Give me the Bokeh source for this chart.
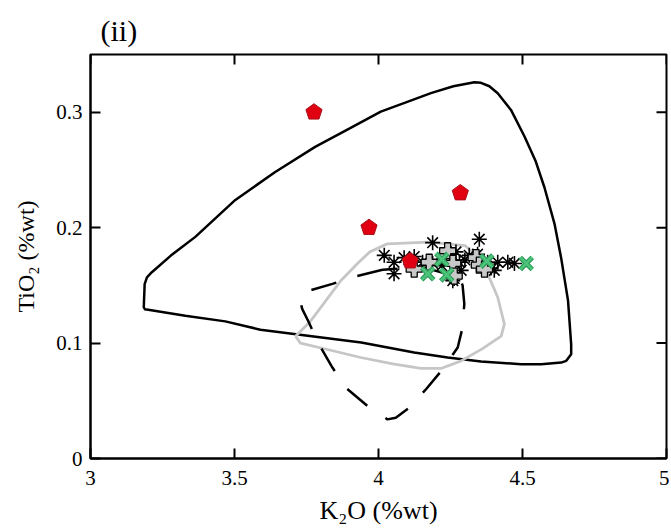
import math
from bokeh.plotting import figure
from bokeh.models import Range1d, FixedTicker
from bokeh.embed import file_html
from bokeh.resources import INLINE

# ---- data ----
x_ticks = [3, 3.5, 4, 4.5, 5]
x_tick_labels = ["3", "3.5", "4", "4.5", "5"]
y_ticks = [0, 0.1, 0.2, 0.3]
y_tick_labels = ["0", "0.1", "0.2", "0.3"]

# outer solid black field
outer_x = [3.195, 3.190, 3.185, 3.188, 3.196, 3.213, 3.28, 3.364, 3.503, 3.64, 3.78, 3.90,
           4.008, 4.10, 4.182, 4.26, 4.333, 4.356, 4.385, 4.414, 4.46, 4.507, 4.545, 4.576,
           4.611, 4.634, 4.658, 4.669, 4.669, 4.652, 4.634, 4.565, 4.495, 4.356, 4.24, 4.124,
           3.94, 3.59, 3.468, 3.329, 3.195]
outer_y = [0.129, 0.129, 0.131, 0.151, 0.157, 0.1614, 0.176, 0.192, 0.224, 0.248, 0.270, 0.286,
           0.3005, 0.309, 0.3165, 0.3225, 0.326, 0.3255, 0.3225, 0.3165, 0.302, 0.279, 0.258, 0.235,
           0.2035, 0.174, 0.137, 0.099, 0.0904, 0.0846, 0.0831, 0.0817, 0.0817, 0.084, 0.0875, 0.0918,
           0.1005, 0.1116, 0.1188, 0.1237, 0.129]

# grey field
grey_x = [3.712, 3.729, 3.83, 3.938, 4.05, 4.147, 4.217, 4.287, 4.36, 4.426, 4.437, 4.414,
          4.379, 4.35, 4.30, 4.171, 4.031, 3.97, 3.927, 3.869, 3.764, 3.712]
grey_y = [0.106, 0.100, 0.094, 0.0875, 0.082, 0.078, 0.078, 0.0846, 0.095, 0.106, 0.1165, 0.1397,
          0.160, 0.174, 0.1845, 0.1875, 0.186, 0.179, 0.169, 0.154, 0.119, 0.106]

# dashed field
dash_x = [4.014, 3.921, 3.84, 3.741, 3.727, 3.735, 3.758, 3.793, 3.84, 3.886, 3.962, 4.031,
          4.06, 4.107, 4.165, 4.223, 4.275, 4.292, 4.298, 4.292, 4.281, 4.15, 4.014]
dash_y = [0.1635, 0.1577, 0.1513, 0.144, 0.138, 0.1296, 0.118, 0.099, 0.0788, 0.0614, 0.0455, 0.0339,
          0.0353, 0.044, 0.060, 0.0774, 0.0962, 0.1136, 0.134, 0.150, 0.157, 0.166, 0.1635]

# samples
ast_x = [4.02, 4.054, 4.054, 4.089, 4.124, 4.153, 4.188, 4.188, 4.22, 4.252, 4.269, 4.281,
         4.287, 4.263, 4.258, 4.30, 4.315, 4.35, 4.344, 4.379, 4.391, 4.402, 4.414, 4.449, 4.472]
ast_y = [0.176, 0.170, 0.160, 0.174, 0.175, 0.170, 0.187, 0.169, 0.167, 0.177, 0.179, 0.170,
         0.163, 0.156, 0.154, 0.172, 0.176, 0.190, 0.177, 0.170, 0.165, 0.163, 0.170, 0.170, 0.169]

plus_x = [4.124, 4.176, 4.24, 4.258, 4.263, 4.339, 4.35, 4.368]
plus_y = [0.164, 0.170, 0.180, 0.169, 0.158, 0.174, 0.1675, 0.164]

grn_x = [4.171, 4.22, 4.237, 4.376, 4.513]
grn_y = [0.160, 0.1725, 0.159, 0.171, 0.169]

red_x = [3.776, 3.967, 4.284, 4.11]
red_y = [0.300, 0.200, 0.230, 0.171]

FONT = "Liberation Serif"
FW, FH = 576, 404
X0, X1, Y0, Y1 = 3, 5, 0, 0.35
sx = (X1 - X0) / FW   # data units per screen pixel
sy = (Y1 - Y0) / FH
TICK = 10

p = figure(frame_width=FW, frame_height=FH, x_range=Range1d(X0, X1), y_range=Range1d(Y0, Y1),
           output_backend="svg", toolbar_location=None,
           min_border_left=90, min_border_right=3, min_border_top=54, min_border_bottom=71)
p.grid.visible = False
p.outline_line_color = "black"
p.outline_line_width = 2
p.background_fill_color = "white"
p.border_fill_color = "white"

p.title.text = "(ii)"
p.title.text_font = FONT
p.title.text_font_size = "30px"
p.title.text_font_style = "normal"
p.title.text_color = "black"
p.title.align = "left"
p.title.offset = 10
p.title.standoff = 16

def style(ax):
    ax.axis_line_width = 2
    ax.axis_line_color = "black"
    ax.major_tick_line_width = 2
    ax.major_tick_in = TICK
    ax.major_tick_out = 0
    ax.minor_tick_line_color = None
    ax.major_label_text_font = FONT
    ax.major_label_text_font_size = "21px"
    ax.major_label_text_color = "black"
    ax.axis_label_text_font = FONT
    ax.axis_label_text_font_style = "normal"
    ax.axis_label_text_color = "black"

xa = p.xaxis[0]
xa.ticker = FixedTicker(ticks=x_ticks)
xa.major_label_overrides = dict(zip(x_ticks, x_tick_labels))
xa.axis_label = "K₂O (%wt)"
style(xa)
xa.axis_label_text_font_size = "26px"
xa.major_label_standoff = 12
xa.axis_label_standoff = 8

ya = p.yaxis[0]
ya.ticker = FixedTicker(ticks=y_ticks)
ya.major_label_overrides = dict(zip(y_ticks, y_tick_labels))
ya.axis_label = "TiO₂ (%wt)"
style(ya)
ya.axis_label_text_font_size = "24px"
ya.major_label_standoff = 8
ya.axis_label_standoff = 14

# mirrored inward ticks on the top and right frame edges
p.segment(x0=x_ticks, y0=[Y1] * len(x_ticks), x1=x_ticks, y1=[Y1 - TICK * sy] * len(x_ticks),
          line_color="black", line_width=2)
p.segment(x0=[X1] * len(y_ticks), y0=y_ticks, x1=[X1 - TICK * sx] * len(y_ticks), y1=y_ticks,
          line_color="black", line_width=2)

# fields
p.line(outer_x, outer_y, line_color="black", line_width=2.5)
p.line(grey_x, grey_y, line_color="#c6c6c6", line_width=2.8)
p.line(dash_x, dash_y, line_color="black", line_width=2.5, line_dash="26 22")

# samples
p.scatter(ast_x, ast_y, marker="asterisk", size=15, line_color="black", line_width=1.6)
p.scatter(plus_x, plus_y, marker="plus", size=16, fill_color="#c8c8c8", line_color="black", line_width=1.3)
p.scatter(grn_x, grn_y, marker="x", size=17, line_color="#2f9c58", line_width=5)
p.scatter(grn_x, grn_y, marker="x", size=17, line_color="#4cc47c", line_width=2.5)

# red pentagons (point up), radius in screen pixels converted through the frame scale
R = 8.5
pent_xs, pent_ys = [], []
for cx, cy in zip(red_x, red_y):
    pent_xs.append([cx + R * sx * math.cos(math.pi / 2 + 2 * math.pi * k / 5) for k in range(5)])
    pent_ys.append([cy + R * sy * math.sin(math.pi / 2 + 2 * math.pi * k / 5) for k in range(5)])
p.patches(pent_xs, pent_ys, fill_color="#e00012", line_color="#a8141a", line_width=1)

open("out.html", "w").write(file_html(p, INLINE))
